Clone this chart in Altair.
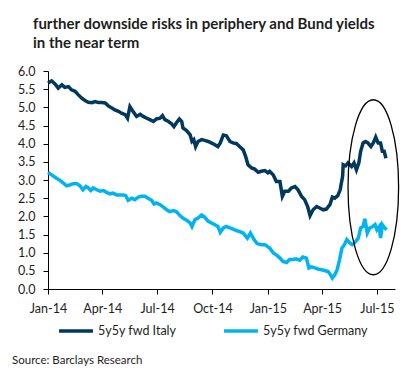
import altair as alt
import pandas as pd

# ---------------- data ----------------
italy_dates = [
    "2014-01-01", "2014-01-07", "2014-01-13", "2014-01-18", "2014-01-24", "2014-01-29",
    "2014-02-04", "2014-02-09", "2014-02-15", "2014-02-20", "2014-02-26",
    "2014-03-04", "2014-03-09", "2014-03-15", "2014-03-20", "2014-03-26", "2014-03-31",
    "2014-04-06", "2014-04-11", "2014-04-17", "2014-04-22", "2014-04-28",
    "2014-05-03", "2014-05-09", "2014-05-13", "2014-05-17", "2014-05-22", "2014-05-28",
    "2014-06-03", "2014-06-08", "2014-06-14", "2014-06-19", "2014-06-25", "2014-06-30",
    "2014-07-06", "2014-07-10", "2014-07-14", "2014-07-20", "2014-07-25", "2014-07-29",
    "2014-08-02", "2014-08-07", "2014-08-11", "2014-08-13", "2014-08-19", "2014-08-25", "2014-08-28", "2014-08-31",
    "2014-09-03", "2014-09-07", "2014-09-13", "2014-09-18", "2014-09-24", "2014-09-29",
    "2014-10-05", "2014-10-10", "2014-10-14", "2014-10-19", "2014-10-24", "2014-10-30",
    "2014-11-04", "2014-11-10", "2014-11-15", "2014-11-21", "2014-11-25", "2014-11-29",
    "2014-12-05", "2014-12-10", "2014-12-16", "2014-12-21", "2014-12-27",
    "2015-01-01", "2015-01-04", "2015-01-10", "2015-01-15", "2015-01-21", "2015-01-25", "2015-01-29",
    "2015-02-04", "2015-02-09", "2015-02-15", "2015-02-20", "2015-02-26",
    "2015-03-03", "2015-03-08", "2015-03-12", "2015-03-17", "2015-03-23", "2015-03-28",
    "2015-04-03", "2015-04-08", "2015-04-14", "2015-04-18", "2015-04-22", "2015-04-27",
    "2015-05-01", "2015-05-05", "2015-05-06", "2015-05-10", "2015-05-14", "2015-05-20", "2015-05-24", "2015-05-28",
    "2015-06-01", "2015-06-04", "2015-06-08", "2015-06-12", "2015-06-16", "2015-06-21", "2015-06-25", "2015-06-29",
    "2015-07-03", "2015-07-07", "2015-07-10", "2015-07-13", "2015-07-16",
]
italy_values = [
    5.67, 5.73, 5.64, 5.53, 5.62, 5.55,
    5.57, 5.48, 5.44, 5.35, 5.25,
    5.18, 5.14, 5.13, 5.16, 5.13, 5.13,
    5.12, 5.04, 4.98, 4.93, 4.89,
    4.84, 4.80, 4.70, 5.02, 4.89, 4.75,
    4.81, 4.75, 4.70, 4.66, 4.61, 4.68,
    4.70, 4.77, 4.66, 4.61, 4.55, 4.47,
    4.57, 4.68, 4.61, 4.43, 4.36, 4.24, 4.06, 4.11,
    3.92, 4.06, 4.11, 4.09, 4.06, 4.02,
    3.97, 3.92, 4.02, 4.24, 4.22, 4.06,
    4.02, 4.00, 3.92, 3.83, 3.65, 3.42,
    3.33, 3.30, 3.21, 3.24, 3.26,
    3.20, 3.24, 3.14, 2.96, 2.96, 2.55, 2.69,
    2.69, 2.78, 2.82, 2.73, 2.55,
    2.46, 2.27, 2.02, 2.18, 2.27, 2.23,
    2.18, 2.20, 2.32, 2.53, 2.50, 2.57,
    2.73, 3.10, 3.42, 3.39, 3.47, 3.37, 3.47, 3.28,
    3.47, 3.79, 4.02, 4.06, 4.02, 3.92, 4.02, 4.18,
    4.02, 4.02, 3.79, 3.79, 3.60,
]

germany_dates = [
    "2014-01-01", "2014-01-07", "2014-01-15", "2014-01-21", "2014-01-26",
    "2014-02-01", "2014-02-07", "2014-02-12", "2014-02-18", "2014-02-23", "2014-02-28",
    "2014-03-05", "2014-03-09", "2014-03-13", "2014-03-17", "2014-03-23", "2014-03-28",
    "2014-04-03", "2014-04-08", "2014-04-14", "2014-04-19", "2014-04-25", "2014-04-30",
    "2014-05-06", "2014-05-10", "2014-05-14", "2014-05-20", "2014-05-25", "2014-05-31",
    "2014-06-05", "2014-06-11", "2014-06-16", "2014-06-22", "2014-06-26", "2014-06-30",
    "2014-07-06", "2014-07-11", "2014-07-17", "2014-07-22", "2014-07-28",
    "2014-08-02", "2014-08-08", "2014-08-13", "2014-08-19", "2014-08-25", "2014-08-28",
    "2014-09-02", "2014-09-07", "2014-09-13", "2014-09-18", "2014-09-24", "2014-09-29",
    "2014-10-05", "2014-10-10", "2014-10-14", "2014-10-19", "2014-10-24", "2014-10-30",
    "2014-11-04", "2014-11-10", "2014-11-15", "2014-11-21", "2014-11-28",
    "2014-12-03", "2014-12-09", "2014-12-14", "2014-12-21", "2014-12-27",
    "2015-01-04", "2015-01-10", "2015-01-15", "2015-01-21", "2015-01-26",
    "2015-02-01", "2015-02-06", "2015-02-12", "2015-02-17", "2015-02-23", "2015-02-28",
    "2015-03-06", "2015-03-10", "2015-03-14", "2015-03-20", "2015-03-25", "2015-03-31",
    "2015-04-05", "2015-04-11", "2015-04-15", "2015-04-18", "2015-04-22", "2015-04-26", "2015-04-30",
    "2015-05-04", "2015-05-08", "2015-05-12", "2015-05-17", "2015-05-21", "2015-05-25", "2015-05-31",
    "2015-06-04", "2015-06-08", "2015-06-11", "2015-06-15", "2015-06-19", "2015-06-24", "2015-06-28",
    "2015-07-01", "2015-07-05", "2015-07-07", "2015-07-10", "2015-07-14", "2015-07-17",
]
germany_values = [
    3.21, 3.14, 3.05, 2.99, 2.92,
    2.84, 2.87, 2.90, 2.90, 2.84, 2.73,
    2.82, 2.78, 2.71, 2.78, 2.73, 2.69,
    2.71, 2.66, 2.62, 2.64, 2.59, 2.59,
    2.59, 2.57, 2.44, 2.50, 2.46, 2.53,
    2.55, 2.55, 2.50, 2.44, 2.34, 2.37,
    2.32, 2.26, 2.18, 2.13, 2.16,
    2.13, 2.02, 1.95, 1.89, 1.82, 1.72,
    1.91, 1.95, 2.04, 1.98, 1.86, 1.82,
    1.77, 1.72, 1.56, 1.68, 1.72, 1.68,
    1.65, 1.61, 1.58, 1.54, 1.40,
    1.54, 1.36, 1.25, 1.22, 1.22,
    1.13, 0.99, 0.94, 0.85, 0.76,
    0.73, 0.81, 0.81, 0.83, 0.79, 0.88,
    0.85, 0.58, 0.61, 0.58, 0.55, 0.53,
    0.51, 0.48, 0.39, 0.30, 0.39, 0.53, 0.81,
    1.13, 1.22, 1.36, 1.27, 1.22, 1.27, 1.40,
    1.68, 1.72, 1.93, 1.54, 1.68, 1.72, 1.77,
    1.63, 1.72, 1.40, 1.77, 1.68, 1.63,
]

series_names = ["5y5y fwd Italy", "5y5y fwd Germany"]
series_colors = ["#00395D", "#00B4EF"]
y_ticks = [0.0, 0.5, 1.0, 1.5, 2.0, 2.5, 3.0, 3.5, 4.0, 4.5, 5.0, 5.5, 6.0]
x_tick_months = [(2014, 1), (2014, 4), (2014, 7), (2014, 10), (2015, 1), (2015, 4), (2015, 7)]
title_lines = ["further downside risks in periphery and Bund yields", "in the near term"]
source_text = "Source: Barclays Research"

# highlighted region (ellipse annotation): centre and value
highlight_date = ["2015-06-25"]
highlight_value = [2.80]

# ---------------- build tables ----------------
df = pd.concat([
    pd.DataFrame({"date": italy_dates, "value": italy_values, "series": series_names[0]}),
    pd.DataFrame({"date": germany_dates, "value": germany_values, "series": series_names[1]}),
], ignore_index=True)
hl = pd.DataFrame({"date": highlight_date, "value": highlight_value})
src = pd.DataFrame({"t": [source_text]})

FONT = "Lato"
TXT = "#1e1e1e"

x_enc = alt.X(
    "date:T",
    scale=alt.Scale(
        type="utc",
        domain=[alt.DateTime(year=2014, month=1, date=1, utc=True),
                alt.DateTime(year=2015, month=7, date=31, utc=True)],
    ),
    axis=alt.Axis(
        values=[alt.DateTime(year=y, month=m, date=1, utc=True) for y, m in x_tick_months],
        format="%b-%y", title=None, grid=False,
        labelOverlap=False, labelBound=False, labelFlush=False,
        domainColor="#000000", tickColor="#000000", tickSize=5,
        labelFontSize=12.5, labelFont=FONT, labelColor=TXT, labelPadding=8,
    ),
)
y_enc = alt.Y(
    "value:Q",
    scale=alt.Scale(domain=[0, 6], nice=False, zero=True),
    axis=alt.Axis(
        values=y_ticks, format=".1f", title=None, grid=False,
        labelOverlap=False, labelBound=False, labelFlush=False, tickCount=13,
        domainColor="#000000", tickColor="#000000", tickSize=5,
        labelFontSize=12.5, labelFont=FONT, labelColor=TXT, labelPadding=8,
    ),
)

lines = alt.Chart(df).mark_line(strokeWidth=3.5).encode(
    x=x_enc,
    y=y_enc,
    color=alt.Color(
        "series:N",
        scale=alt.Scale(domain=series_names, range=series_colors),
        sort=series_names,
        legend=alt.Legend(
            title=None, orient="none", direction="horizontal",
            legendX=9, legendY=241, gridAlign="none",
            symbolType="stroke", symbolStrokeWidth=3.5, symbolSize=1150,
            labelFontSize=12.5, labelFont=FONT, labelColor=TXT,
            labelOffset=3, columnPadding=40,
        ),
    ),
    order=alt.Order("date:T"),
)

ellipse_path = "M0,-1A0.289,1,0,1,1,0,1A0.289,1,0,1,1,0,-1Z"
ellipse = alt.Chart(hl).mark_point(
    shape=ellipse_path, size=30625, filled=False,
    stroke="#000000", strokeWidth=1.3, opacity=1,
).encode(x=x_enc, y=y_enc)

source = alt.Chart(src).mark_text(
    align="left", baseline="middle", font=FONT, fontSize=11.5, color=TXT,
).encode(x=alt.value(-36), y=alt.value(290), text="t:N")

chart = alt.layer(lines, ellipse, source).properties(
    width=347,
    height=218,
    autosize=alt.AutoSizeParams(type="none"),
    padding={"left": 40, "top": 63, "right": 12, "bottom": 80},
    title=alt.TitleParams(
        text=title_lines, anchor="start", frame="group", dx=-15, offset=14,
        font=FONT, fontSize=15, fontWeight="bold", color=TXT, lineHeight=19,
    ),
).configure_view(stroke=None).configure_axis(labelOverlap=False)

chart.save("out.html", embed_options={"renderer": "svg", "actions": False})
